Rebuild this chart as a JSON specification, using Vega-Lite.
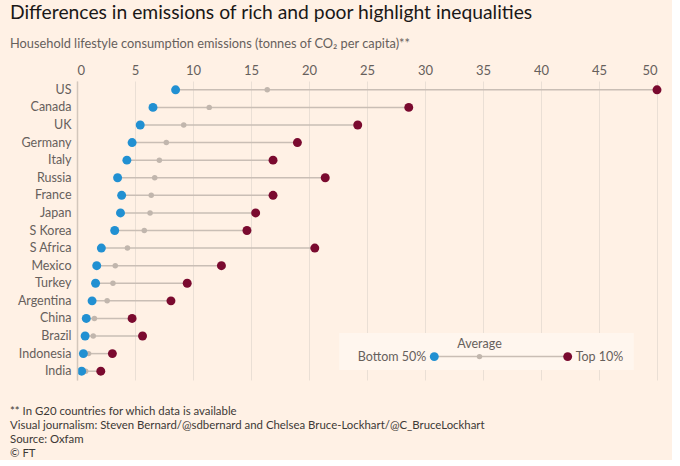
{
  "$schema": "https://vega.github.io/schema/vega-lite/v6.json",
  "background": "#fff1e5",
  "padding": {"left": 10, "top": 3, "right": 10, "bottom": 0},
  "title": {
    "text": "Differences in emissions of rich and poor highlight inequalities",
    "subtitle": "Household lifestyle consumption emissions (tonnes of CO₂ per capita)**",
    "anchor": "start",
    "frame": "bounds",
    "font": "Lato",
    "fontSize": 19.3,
    "fontWeight": "normal",
    "color": "#1a1817",
    "subtitleFont": "Lato",
    "subtitleFontSize": 12.8,
    "subtitleColor": "#66605c",
    "subtitlePadding": 15,
    "offset": 13
  },
  "datasets": {
    "emissions": [
      {"country": "US", "bottom": 8.5, "avg": 16.4, "top": 50.0},
      {"country": "Canada", "bottom": 6.55, "avg": 11.4, "top": 28.6},
      {"country": "UK", "bottom": 5.45, "avg": 9.2, "top": 24.2},
      {"country": "Germany", "bottom": 4.75, "avg": 7.7, "top": 19.0},
      {"country": "Italy", "bottom": 4.3, "avg": 7.1, "top": 16.9},
      {"country": "Russia", "bottom": 3.5, "avg": 6.7, "top": 21.4},
      {"country": "France", "bottom": 3.85, "avg": 6.4, "top": 16.9},
      {"country": "Japan", "bottom": 3.75, "avg": 6.3, "top": 15.4},
      {"country": "S Korea", "bottom": 3.25, "avg": 5.8, "top": 14.65},
      {"country": "S Africa", "bottom": 2.1, "avg": 4.35, "top": 20.5},
      {"country": "Mexico", "bottom": 1.7, "avg": 3.3, "top": 12.45},
      {"country": "Turkey", "bottom": 1.6, "avg": 3.1, "top": 9.5},
      {"country": "Argentina", "bottom": 1.3, "avg": 2.6, "top": 8.1},
      {"country": "China", "bottom": 0.8, "avg": 1.5, "top": 4.75},
      {"country": "Brazil", "bottom": 0.7, "avg": 1.4, "top": 5.65},
      {"country": "Indonesia", "bottom": 0.55, "avg": 1.0, "top": 3.05},
      {"country": "India", "bottom": 0.4, "avg": 0.75, "top": 2.05}
    ],
    "legend": [
      {"bottom": 30.8, "avg": 34.7, "top": 42.3, "lo": 22.6, "hi": 48}
    ]
  },
  "vconcat": [
    {
      "width": 580,
      "height": 299,
      "title": {
        "text": [
          "** In G20 countries for which data is available",
          "Visual journalism: Steven Bernard/@sdbernard and Chelsea Bruce-Lockhart/@C_BruceLockhart",
          "Source: Oxfam",
          "© FT"
        ],
        "orient": "bottom",
        "anchor": "start",
        "frame": "bounds",
        "font": "Lato",
        "fontSize": 11.4,
        "fontWeight": "normal",
        "color": "#3d3936",
        "lineHeight": 14,
        "offset": 26
      },
      "layer": [
        {
          "data": {"name": "legend"},
          "mark": {"type": "rect", "color": "#fff6ee", "height": 37, "yOffset": -2},
          "encoding": {
            "x": {"field": "lo", "type": "quantitative"},
            "x2": {"field": "hi"},
            "y": {"datum": "Indonesia"}
          }
        },
        {
          "data": {"name": "emissions"},
          "mark": {"type": "rule", "color": "#c9beb5", "strokeWidth": 1.5},
          "encoding": {
            "y": {"field": "country", "type": "nominal"},
            "x": {"field": "bottom", "type": "quantitative"},
            "x2": {"field": "top"}
          }
        },
        {
          "data": {"name": "emissions"},
          "mark": {"type": "circle", "color": "#c1b6ad", "size": 30, "opacity": 1},
          "encoding": {
            "y": {"field": "country", "type": "nominal"},
            "x": {"field": "avg", "type": "quantitative"}
          }
        },
        {
          "data": {"name": "emissions"},
          "mark": {"type": "circle", "color": "#2190d2", "size": 80, "opacity": 1},
          "encoding": {
            "y": {"field": "country", "type": "nominal"},
            "x": {"field": "bottom", "type": "quantitative"}
          }
        },
        {
          "data": {"name": "emissions"},
          "mark": {"type": "circle", "color": "#7a0a2f", "size": 80, "opacity": 1},
          "encoding": {
            "y": {"field": "country", "type": "nominal"},
            "x": {"field": "top", "type": "quantitative"}
          }
        },
        {
          "data": {"name": "legend"},
          "mark": {"type": "rule", "color": "#c9beb5", "strokeWidth": 1.5, "yOffset": 3},
          "encoding": {
            "x": {"field": "bottom", "type": "quantitative"},
            "x2": {"field": "top"},
            "y": {"datum": "Indonesia"}
          }
        },
        {
          "data": {"name": "legend"},
          "mark": {"type": "circle", "color": "#c1b6ad", "size": 30, "opacity": 1, "yOffset": 3},
          "encoding": {"x": {"field": "avg", "type": "quantitative"}, "y": {"datum": "Indonesia"}}
        },
        {
          "data": {"name": "legend"},
          "mark": {"type": "circle", "color": "#2190d2", "size": 80, "opacity": 1, "yOffset": 3},
          "encoding": {"x": {"field": "bottom", "type": "quantitative"}, "y": {"datum": "Indonesia"}}
        },
        {
          "data": {"name": "legend"},
          "mark": {"type": "circle", "color": "#7a0a2f", "size": 80, "opacity": 1, "yOffset": 3},
          "encoding": {"x": {"field": "top", "type": "quantitative"}, "y": {"datum": "Indonesia"}}
        },
        {
          "data": {"name": "legend"},
          "mark": {"type": "text", "text": "Average", "font": "Lato", "fontSize": 12.5, "color": "#66605c", "dy": -10, "align": "center"},
          "encoding": {"x": {"field": "avg", "type": "quantitative"}, "y": {"datum": "Indonesia"}}
        },
        {
          "data": {"name": "legend"},
          "mark": {"type": "text", "text": "Bottom 50%", "font": "Lato", "fontSize": 12.5, "color": "#66605c", "dy": 3, "dx": -8, "align": "right"},
          "encoding": {"x": {"field": "bottom", "type": "quantitative"}, "y": {"datum": "Indonesia"}}
        },
        {
          "data": {"name": "legend"},
          "mark": {"type": "text", "text": "Top 10%", "font": "Lato", "fontSize": 12.5, "color": "#66605c", "dy": 3, "dx": 8, "align": "left"},
          "encoding": {"x": {"field": "top", "type": "quantitative"}, "y": {"datum": "Indonesia"}}
        }
      ],
      "encoding": {
        "x": {
          "type": "quantitative",
          "scale": {"domain": [0, 50], "nice": false},
          "axis": {
            "orient": "top",
            "title": null,
            "values": [0, 5, 10, 15, 20, 25, 30, 35, 40, 45, 50],
            "domain": false,
            "ticks": false,
            "labelPadding": 4,
            "grid": true
          }
        },
        "y": {
          "type": "nominal",
          "scale": {
            "domain": ["US", "Canada", "UK", "Germany", "Italy", "Russia", "France", "Japan", "S Korea", "S Africa", "Mexico", "Turkey", "Argentina", "China", "Brazil", "Indonesia", "India"],
            "paddingInner": 0,
            "paddingOuter": 0
          },
          "axis": {"title": null, "ticks": false, "domain": true, "labelPadding": 6, "labelFontSize": 12.5, "minExtent": 67}
        }
      }
    }
  ],
  "config": {
    "view": {"stroke": null},
    "axis": {
      "labelFont": "Lato",
      "labelFontSize": 13,
      "labelColor": "#66605c",
      "gridColor": "#eadfd5",
      "gridWidth": 1,
      "domainColor": "#d3c7bc",
      "domainWidth": 1.5
    },
    "concat": {"spacing": 0}
  }
}
